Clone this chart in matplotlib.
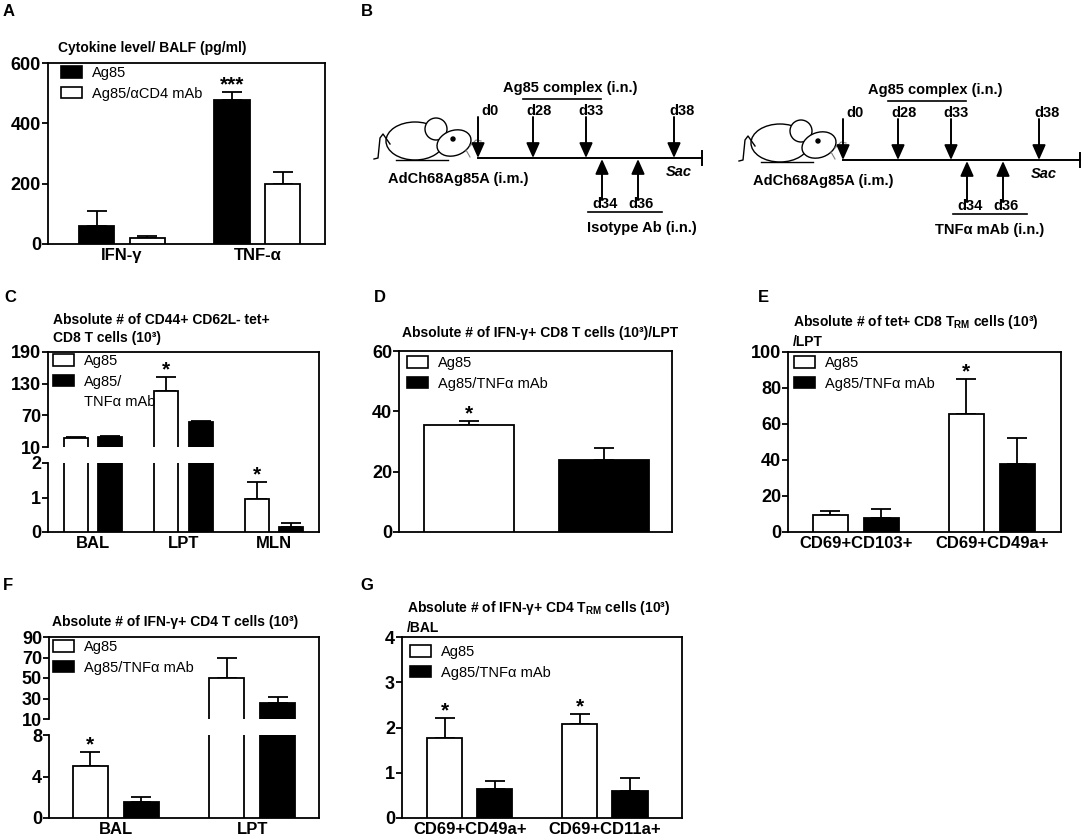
import numpy as np
import matplotlib
matplotlib.use('Agg')
import matplotlib.pyplot as plt
from matplotlib.patches import Patch, Ellipse, Circle

plt.rcParams['font.family'] = ['Liberation Sans', 'DejaVu Sans']
plt.rcParams['font.weight'] = 'bold'
plt.rcParams['mathtext.fontset'] = 'custom'
plt.rcParams['mathtext.rm'] = 'Liberation Sans'
plt.rcParams['mathtext.bf'] = 'Liberation Sans:bold'

# ---- data (mean, SEM) ----
# A
a_cats = ['IFN-γ', 'TNF-α']
a_ag85 = [60, 477]
a_ag85_err = [48, 28]
a_cd4 = [20, 199]
a_cd4_err = [7, 40]

# C
c_cats = ['BAL', 'LPT', 'MLN']
c_ag85 = [27, 116, 0.96]
c_ag85_err = [2, 27, 0.49]
c_tnf = [29, 57, 0.15]
c_tnf_err = [2, 2, 0.11]

# D
d_vals = [35.5, 23.9]
d_err = [1.3, 3.9]

# E
e_cats = ['CD69+CD103+', 'CD69+CD49a+']
e_ag85 = [9.5, 65.5]
e_ag85_err = [2.2, 19.5]
e_tnf = [8, 37.8]
e_tnf_err = [4.8, 14.2]

# F
f_cats = ['BAL', 'LPT']
f_ag85 = [5.0, 50]
f_ag85_err = [1.4, 20]
f_tnf = [1.55, 25.6]
f_tnf_err = [0.45, 6]

# G
g_cats = ['CD69+CD49a+', 'CD69+CD11a+']
g_ag85 = [1.77, 2.08]
g_ag85_err = [0.44, 0.22]
g_tnf = [0.64, 0.6]
g_tnf_err = [0.18, 0.28]

# schedule (B)
top_days = ['d0', 'd28', 'd33', 'd38']
bot_days = ['d34', 'd36']

W, H = 1084, 839
fig = plt.figure(figsize=(W / 100, H / 100), dpi=100)


def box(x0, y0, x1, y1):
    return fig.add_axes([x0 / W, 1 - y1 / H, (x1 - x0) / W, (y1 - y0) / H])


def style(ax, spines=('left', 'bottom', 'right', 'top')):
    for s in ax.spines:
        ax.spines[s].set_visible(s in spines)
        ax.spines[s].set_linewidth(1.3)
    ax.tick_params(axis='y', direction='out', length=4, width=1.3, labelsize=13, pad=1)
    ax.tick_params(axis='x', length=0, labelsize=12, pad=3)
    ax.set_facecolor('none')


def bars(ax, n, groups, width, offset):
    for (vals, errs, color), o in zip(groups, [-offset, offset]):
        x = np.arange(n) + o
        ax.bar(x, vals, width, color=color, edgecolor='black', linewidth=1.3, zorder=3)
        ax.errorbar(x, vals, yerr=[np.zeros(n), errs], fmt='none', ecolor='black',
                    elinewidth=1.3, capsize=7, capthick=1.3, zorder=2)


def legend(ax, labels, colors, x, y):
    handles = [Patch(facecolor=c, edgecolor='black' if c != 'none' else 'none', linewidth=1.2)
               for c in colors]
    ax.legend(handles, labels, loc='upper left', bbox_to_anchor=(x / W, 1 - y / H),
              bbox_transform=fig.transFigure, frameon=False, borderpad=0, borderaxespad=0,
              handlelength=1.45, handleheight=0.85, handletextpad=0.7, labelspacing=0.45,
              prop={'size': 10.5, 'weight': 'normal'})


def star(ax, x, top, s='*'):
    ax.annotate(s, (x, top), xytext=(0, 1), textcoords='offset points', ha='center',
                va='baseline', fontsize=15, fontweight='bold', zorder=5)


sk = box(0, 0, W, H)
sk.set_xlim(0, W)
sk.set_ylim(H, 0)
sk.axis('off')
sk.set_zorder(10)

# ---------------- A ----------------
ax = box(48, 63, 325, 244)
style(ax)
bars(ax, 2, [(a_ag85, a_ag85_err, 'black'), (a_cd4, a_cd4_err, 'white')], 0.26, 0.187)
ax.set_xlim(-0.548, 1.5)
ax.set_ylim(0, 600)
ax.set_yticks([0, 200, 400, 600])
ax.set_xticks(range(2))
ax.set_xticklabels(a_cats)
legend(ax, ['Ag85', 'Ag85/αCD4 mAb'], ['black', 'white'], 61, 66)
star(ax, 1 - 0.187, a_ag85[1] + a_ag85_err[1], '***')

# ---------------- C (broken axis) ----------------
c_groups = [(c_ag85, c_ag85_err, 'white'), (c_tnf, c_tnf_err, 'black')]
cu = box(48, 352, 319, 447)
cl = box(48, 463, 319, 532)
cf = box(48, 352, 319, 532)
style(cu, ('left',))
style(cl, ('left', 'bottom'))
style(cf, ('top', 'right'))
cf.set_xticks([])
cf.set_yticks([])
for a in (cu, cl):
    bars(a, 3, c_groups, 0.265, 0.19)
    a.set_xlim(-0.5, 2.5)
cu.set_ylim(10, 190)
cu.set_yticks([10, 70, 130, 190])
cu.set_xticks([])
cl.set_ylim(0, 2)
cl.set_yticks([0, 1, 2])
cl.set_xticks(range(3))
cl.set_xticklabels(c_cats)
legend(cu, ['Ag85', 'Ag85/', 'TNFα mAb'], ['white', 'black', 'none'], 53, 354)
star(cu, 1 - 0.19, c_ag85[1] + c_ag85_err[1])
star(cl, 2 - 0.19, c_ag85[2] + c_ag85_err[2])

# ---------------- D ----------------
ax = box(399, 351, 672, 532)
style(ax)
ax.bar([0, 1], d_vals, 0.667, color=['white', 'black'], edgecolor='black', linewidth=1.3, zorder=3)
ax.errorbar([0, 1], d_vals, yerr=[[0, 0], d_err], fmt='none', ecolor='black',
            elinewidth=1.3, capsize=7, capthick=1.3, zorder=2)
ax.set_xlim(-0.52, 1.5)
ax.set_ylim(0, 60)
ax.set_yticks([0, 20, 40, 60])
ax.set_xticks([])
legend(ax, ['Ag85', 'Ag85/TNFα mAb'], ['white', 'black'], 407, 356)
star(ax, 0, d_vals[0] + d_err[0])

# ---------------- E ----------------
ax = box(788, 352, 1061, 532)
style(ax)
bars(ax, 2, [(e_ag85, e_ag85_err, 'white'), (e_tnf, e_tnf_err, 'black')], 0.26, 0.1875)
ax.set_xlim(-0.5, 1.51)
ax.set_ylim(0, 100)
ax.set_yticks(range(0, 101, 20))
ax.set_xticks(range(2))
ax.set_xticklabels(e_cats)
legend(ax, ['Ag85', 'Ag85/TNFα mAb'], ['white', 'black'], 794, 356)
star(ax, 1 - 0.1875, e_ag85[1] + e_ag85_err[1])

# ---------------- F (broken axis) ----------------
f_groups = [(f_ag85, f_ag85_err, 'white'), (f_tnf, f_tnf_err, 'black')]
fu = box(49, 637, 319, 719)
fl = box(49, 735, 319, 818)
ff = box(49, 637, 319, 818)
style(fu, ('left',))
style(fl, ('left', 'bottom'))
style(ff, ('top', 'right'))
ff.set_xticks([])
ff.set_yticks([])
for a in (fu, fl):
    bars(a, 2, f_groups, 0.257, 0.1875)
    a.set_xlim(-0.49, 1.49)
fu.set_ylim(10, 90)
fu.set_yticks([10, 30, 50, 70, 90])
fu.set_xticks([])
fl.set_ylim(0, 8)
fl.set_yticks([0, 4, 8])
fl.set_xticks(range(2))
fl.set_xticklabels(f_cats)
legend(fu, ['Ag85', 'Ag85/TNFα mAb'], ['white', 'black'], 53, 640)
star(fl, 0 - 0.1875, f_ag85[0] + f_ag85_err[0])

# ---------------- G ----------------
ax = box(402, 637, 682, 818)
style(ax)
bars(ax, 2, [(g_ag85, g_ag85_err, 'white'), (g_tnf, g_tnf_err, 'black')], 0.26, 0.185)
ax.set_xlim(-0.5, 1.57)
ax.set_ylim(0, 4)
ax.set_yticks(range(5))
ax.set_xticks(range(2))
ax.set_xticklabels(g_cats)
legend(ax, ['Ag85', 'Ag85/TNFα mAb'], ['white', 'black'], 410, 645)
for i in range(2):
    star(ax, i - 0.185, g_ag85[i] + g_ag85_err[i])

# ---------------- titles and panel letters ----------------
tkw = dict(fontsize=10, fontweight='bold', ha='left', va='center', linespacing=1.45)
sk.text(58, 48, 'Cytokine level/ BALF (pg/ml)', **tkw)
sk.text(53, 329, 'Absolute # of CD44+ CD62L- tet+\nCD8 T cells (10³)', **tkw)
sk.text(402, 333, 'Absolute # of IFN-γ+ CD8 T cells (10³)/LPT', **tkw)
sk.text(793, 331, 'Absolute # of tet+ CD8 T$_{\\mathbf{RM}}$ cells (10³)\n/LPT', **tkw)
sk.text(52, 622, 'Absolute # of IFN-γ+ CD4 T cells (10³)', **tkw)
sk.text(407, 617, 'Absolute # of IFN-γ+ CD4 T$_{\\mathbf{RM}}$ cells (10³)\n/BAL', **tkw)

for lab, x, y in [('A', 9, 12), ('B', 367, 11), ('C', 10, 297), ('D', 380, 297),
                  ('E', 763, 297), ('F', 8, 585), ('G', 367, 585)]:
    sk.text(x, y, lab, fontsize=12, fontweight='bold', ha='center', va='center')


# ---------------- B: schedules ----------------
def arrow(x, y_from, y_to):
    sk.annotate('', xy=(x, y_to), xytext=(x, y_from),
                arrowprops=dict(arrowstyle='-|>,head_length=0.9,head_width=0.4',
                                lw=1.4, color='black', shrinkA=0, shrinkB=0,
                                mutation_scale=10))


def mouse(x0, y):
    kw = dict(facecolor='white', edgecolor='black', lw=1.0)
    sk.plot([x0 - 104, x0 - 100, x0 - 98, x0 - 95, x0 - 88],
            [y + 1, y, y - 20, y - 24, y - 14], color='black', lw=1.0)
    sk.add_patch(Ellipse((x0 - 63, y - 17), 58, 38, **kw))
    sk.add_patch(Circle((x0 - 42, y - 29), 11, **kw))
    sk.add_patch(Ellipse((x0 - 24, y - 15), 35, 25, angle=-20, **kw))
    sk.add_patch(Circle((x0 - 25, y - 19), 2, color='black'))
    sk.plot([x0 - 82, x0 - 30], [y + 2, y + 2], color='black', lw=1.0)
    sk.plot([x0 - 8, x0 - 2, x0 + 3], [y - 12, y - 18, y - 17], color='grey', lw=0.8)
    sk.plot([x0 - 12, x0 - 8], [y - 8, y - 1], color='grey', lw=0.8)


def schedule(x0, y, length, bottom_text, bottom_cx):
    top_pos = [0, 55, 108, 196]
    top_lab_dx = [12, 6, 5, 8]
    bot_pos = [124, 160]
    bkw = dict(fontsize=10.5, fontweight='bold', ha='center', va='center')
    sk.plot([x0, x0 + length], [y, y], color='black', lw=1.4)
    sk.plot([x0 + length, x0 + length], [y - 7, y + 7], color='black', lw=1.4)
    for p, lab, dx in zip(top_pos, top_days, top_lab_dx):
        arrow(x0 + p, y - 41, y)
        sk.text(x0 + p + dx, y - 47, lab, **bkw)
    for p, lab in zip(bot_pos, bot_days):
        arrow(x0 + p, y + 42, y + 1)
        sk.text(x0 + p + 3, y + 46, lab, **bkw)
    sk.text(x0 + 92, y - 70, 'Ag85 complex (i.n.)', **bkw)
    sk.plot([x0 + 45, x0 + 123], [y - 59, y - 59], color='black', lw=1.2)
    sk.plot([x0 + 110, x0 + 184], [y + 54, y + 54], color='black', lw=1.2)
    sk.text(x0 + bottom_cx, y + 70, bottom_text, **bkw)
    sk.text(x0 - 20, y + 21, 'AdCh68Ag85A (i.m.)', **bkw)
    sk.text(x0 + 201, y + 14, 'Sac', fontsize=10.5, fontweight='bold', style='italic',
            ha='center', va='center')
    mouse(x0, y)


schedule(478, 158, 224, 'Isotype Ab (i.n.)', 164)
schedule(843, 160, 237, 'TNFα mAb (i.n.)', 147)

fig.savefig('out.png', dpi=100)
